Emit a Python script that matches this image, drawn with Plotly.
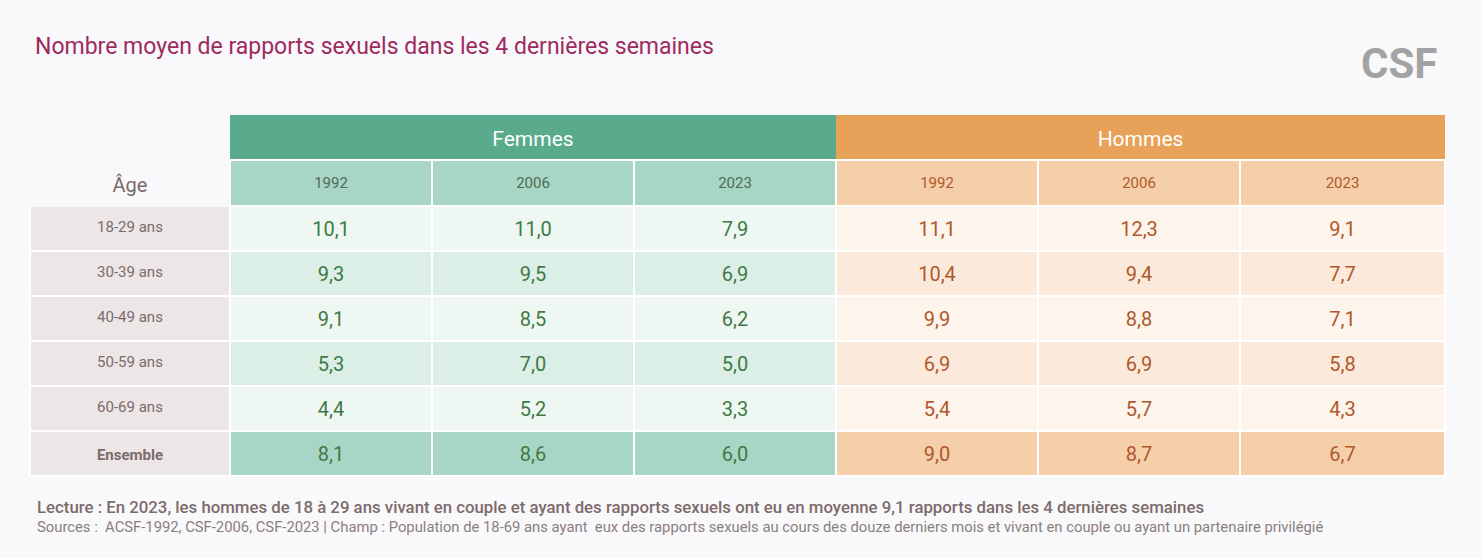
import plotly.graph_objects as go

# ----------------------------------------------------------------------
# Data
ages = ["18-29 ans", "30-39 ans", "40-49 ans", "50-59 ans", "60-69 ans", "Ensemble"]
years = ["1992", "2006", "2023"]
groups = ["Femmes", "Hommes"]

femmes_1992 = [10.1, 9.3, 9.1, 5.3, 4.4, 8.1]
femmes_2006 = [11.0, 9.5, 8.5, 7.0, 5.2, 8.6]
femmes_2023 = [7.9, 6.9, 6.2, 5.0, 3.3, 6.0]
hommes_1992 = [11.1, 10.4, 9.9, 6.9, 5.4, 9.0]
hommes_2006 = [12.3, 9.4, 8.8, 6.9, 5.7, 8.7]
hommes_2023 = [9.1, 7.7, 7.1, 5.8, 4.3, 6.7]

title = "Nombre moyen de rapports sexuels dans les 4 dernières semaines"
lecture = ("Lecture : En 2023, les hommes de 18 à 29 ans vivant en couple et ayant des rapports "
           "sexuels ont eu en moyenne 9,1 rapports dans les 4 dernières semaines")
sources = ("Sources :  ACSF-1992, CSF-2006, CSF-2023 | Champ : Population de 18-69 ans ayant  eux des "
           "rapports sexuels au cours des douze derniers mois et vivant en couple ou ayant un partenaire privilégié")

# ----------------------------------------------------------------------
W, H = 1482, 558
BG = "#f9f8fb"
CLEAR = "rgba(0,0,0,0)"
FONT = "Roboto"

F_HEAD, H_HEAD = "#5aab8b", "#e8a158"
F_YEAR, H_YEAR = "#a8d6c6", "#f4cfaa"
F_ROWS = ["#eef7f2", "#dcefe6"]
H_ROWS = ["#fdf4ec", "#fbeadb"]
AGE_BG = "#ede6e6"
F_TXT, H_TXT, AGE_TXT = "#3f7a45", "#b0582a", "#7a6b6b"
F_YTXT = "#4f6b52"


def fmt(vals):
    return [f"{v:.1f}".replace(".", ",") for v in vals]


def col_fill(rows, total):
    return [rows[i % 2] for i in range(len(ages) - 1)] + [total]


def px(x):
    return x / W


def py(y):
    return 1 - y / H


fig = go.Figure()

# --- top group header: fills, then text (tables have no vertical centring, so text is a
#     second transparent table nudged down)
grp_x = [px(230), px(1445)]
fig.add_trace(go.Table(
    domain=dict(x=grp_x, y=[py(162), py(115)]),
    columnwidth=[606, 609],
    header=dict(values=["", ""], fill_color=[F_HEAD, H_HEAD], height=45,
                line=dict(width=0, color=BG)),
    cells=dict(values=[[], []], height=1, line=dict(width=0)),
))
fig.add_trace(go.Table(
    domain=dict(x=grp_x, y=[py(175), py(122)]),
    columnwidth=[606, 609],
    header=dict(values=groups, fill_color=CLEAR, height=45,
                line=dict(width=0, color=CLEAR), align="center",
                font=dict(family=FONT, size=21, color="white")),
    cells=dict(values=[[], []], height=1, line=dict(width=0), fill_color=CLEAR),
))

# --- main table
age_labels = ages[:-1] + [f"<b>{ages[-1]}</b>"]
f_cols = [femmes_1992, femmes_2006, femmes_2023]
h_cols = [hommes_1992, hommes_2006, hommes_2023]

cell_values = [age_labels] + [fmt(c) for c in f_cols] + [fmt(c) for c in h_cols]
cell_fill = [[AGE_BG] * len(ages)] + [col_fill(F_ROWS, F_YEAR)] * 3 + [col_fill(H_ROWS, H_YEAR)] * 3
cell_font_color = [AGE_TXT] + [F_TXT] * 3 + [H_TXT] * 3
cell_font_size = [15] + [20] * 6
widths = [200, 202, 202, 202, 202, 202, 205]
tab_x = [px(30), px(1445)]
blank = [[""] * len(ages) for _ in widths]

fig.add_trace(go.Table(
    domain=dict(x=tab_x, y=[py(478), py(160)]),
    columnwidth=widths,
    header=dict(values=[""] * len(widths),
                fill_color=[BG] + [F_YEAR] * 3 + [H_YEAR] * 3,
                line=dict(width=2, color=[BG] + ["white"] * 6), height=46),
    cells=dict(values=blank, fill_color=cell_fill,
               line=dict(width=2, color="white"), height=45),
))
fig.add_trace(go.Table(
    domain=dict(x=tab_x, y=[py(495), py(169)]),
    columnwidth=widths,
    header=dict(values=["Âge"] + years + years, fill_color=CLEAR,
                line=dict(width=0, color=CLEAR), height=44, align="center",
                font=dict(family=FONT, size=[20, 15, 15, 15, 15, 15, 15],
                          color=[AGE_TXT, F_YTXT, F_YTXT, F_YTXT, H_TXT, H_TXT, H_TXT])),
    cells=dict(values=cell_values, fill_color=CLEAR,
               line=dict(width=0, color=CLEAR), height=45, align="center",
               font=dict(family=FONT, size=cell_font_size, color=cell_font_color)),
))

annotations = [
    dict(text=title, x=px(33), y=py(47), xanchor="left", yanchor="middle", showarrow=False,
         font=dict(family=FONT, size=23, color="#9e2a5e")),
    dict(text="<b>CSF</b>", x=px(1439), y=py(64), xanchor="right", yanchor="middle", showarrow=False,
         font=dict(family=FONT, size=42, color="#a3a3a3")),
    dict(text=lecture, x=px(35), y=py(507), xanchor="left", yanchor="middle", showarrow=False,
         font=dict(family=FONT, size=16.8, color="#7d6b6b", weight=500)),
    dict(text=sources, x=px(35), y=py(527), xanchor="left", yanchor="middle", showarrow=False,
         font=dict(family=FONT, size=14.8, color="#8a7f7f")),
]

fig.update_layout(
    width=W, height=H,
    margin=dict(l=0, r=0, t=0, b=0),
    paper_bgcolor=BG, plot_bgcolor=BG,
    annotations=annotations,
)

fig.write_html("out.html", config={"displayModeBar": False},
               post_script="document.body.style.margin='0';"
                           "document.body.style.background='" + BG + "';")
